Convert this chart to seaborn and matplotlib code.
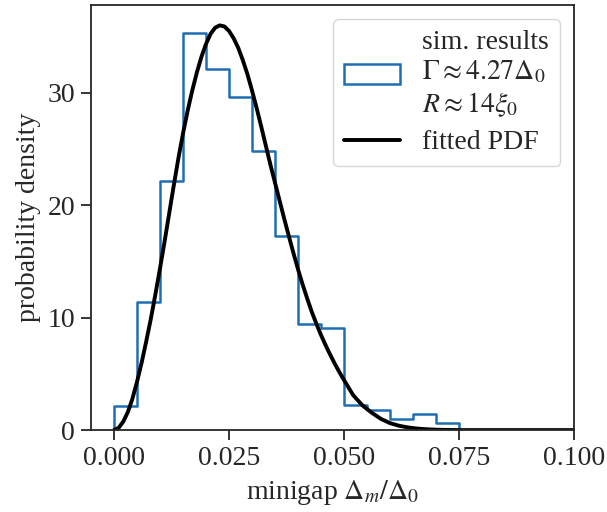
import numpy as np
import pandas as pd
import matplotlib
matplotlib.use("Agg")
import matplotlib.pyplot as plt
import seaborn as sns
from matplotlib.patches import Patch
from matplotlib.lines import Line2D

# histogram (density) data
bin_edges = [0.000, 0.005, 0.010, 0.015, 0.020, 0.025, 0.030, 0.035, 0.040,
             0.045, 0.050, 0.055, 0.060, 0.065, 0.070, 0.075]
bin_density = [2.17, 11.43, 22.2, 35.3, 32.1, 29.65, 24.84, 17.25, 9.4,
               9.05, 2.2, 1.75, 0.98, 1.4, 0.6]

# fitted PDF, points
pdf_x = [0.000, 0.001, 0.002, 0.003, 0.004, 0.005, 0.006, 0.007, 0.008, 0.009,
         0.010, 0.011, 0.012, 0.013, 0.014, 0.015, 0.016, 0.017, 0.018, 0.019,
         0.020, 0.021, 0.022, 0.023, 0.024, 0.025, 0.026, 0.027, 0.028, 0.029,
         0.030, 0.031, 0.032, 0.033, 0.034, 0.035, 0.036, 0.037, 0.038, 0.039,
         0.040, 0.041, 0.042, 0.043, 0.044, 0.045, 0.046, 0.047, 0.048, 0.049,
         0.050, 0.052, 0.054, 0.056, 0.058, 0.060, 0.062, 0.064, 0.066, 0.068,
         0.070, 0.072, 0.075, 0.100]
pdf_y = [0.0, 0.2, 0.75, 1.6, 2.8, 4.3, 6.0, 7.9, 9.9, 12.1,
         14.4, 16.8, 19.3, 21.8, 24.2, 26.4, 28.4, 30.2, 31.8, 33.2,
         34.35, 35.25, 35.8, 36.0, 35.9, 35.5, 34.85, 34.0, 32.9, 31.65,
         30.2, 28.65, 27.0, 25.3, 23.6, 22.0, 20.4, 18.8, 17.25, 15.75,
         14.3, 12.95, 11.7, 10.5, 9.45, 8.45, 7.55, 6.7, 5.9, 5.15,
         4.45, 3.1, 2.2, 1.55, 1.0, 0.62, 0.38, 0.23, 0.13, 0.07,
         0.035, 0.015, 0.0, 0.0]

x_ticks = [0.000, 0.025, 0.050, 0.075, 0.100]
y_ticks = [0, 10, 20, 30]

sns.set_style("ticks")
plt.rcParams["font.family"] = ["Liberation Serif", "DejaVu Serif"]
plt.rcParams["mathtext.fontset"] = "stix"
plt.rcParams["font.size"] = 20

fig = plt.figure(figsize=(6.07, 5.12), dpi=100)
ax = fig.add_axes([0.150, 0.160, 0.7956, 0.830])

blue = "#1f6eb4"
centers = [(a + b) / 2 for a, b in zip(bin_edges[:-1], bin_edges[1:])]
hist_df = pd.DataFrame({"x": centers, "w": bin_density})
sns.histplot(data=hist_df, x="x", weights="w", bins=bin_edges, stat="count",
             element="step", fill=False, color=blue, linewidth=1.8, ax=ax)
# closing edges of the step outline down to zero
ax.vlines([bin_edges[0], bin_edges[-1]], 0, [bin_density[0], bin_density[-1]],
          color=blue, linewidth=1.8)

pdf_df = pd.DataFrame({"x": pdf_x, "y": pdf_y})
sns.lineplot(data=pdf_df, x="x", y="y", color="black", linewidth=2.8, ax=ax)

ax.set_xlim(-0.005, 0.1)
ax.set_ylim(0, 37.8)
ax.set_xticks(x_ticks)
ax.set_xticklabels([f"{t:.3f}" for t in x_ticks])
ax.set_yticks(y_ticks)
ax.tick_params(labelsize=20, width=1.3, length=7, pad=4.5)
for s in ax.spines.values():
    s.set_linewidth(1.3)
    s.set_visible(True)

ax.set_xlabel(r"minigap $\Delta_m/\Delta_0$", fontsize=20, labelpad=5)
ax.set_ylabel("probability density", fontsize=20, labelpad=5)

handles = [Patch(facecolor="white", edgecolor=blue, linewidth=1.8),
           Line2D([], [], color="black", linewidth=2.8)]
labels = ["sim. results\n" + r"$\Gamma \approx 4.27\Delta_0$" + "\n" + r"$R \approx 14\xi_0$",
          "fitted PDF"]
ax.legend(handles, labels, loc="upper right", fontsize=20, frameon=True,
          borderaxespad=0.5, handlelength=2.0, labelspacing=0.4)

fig.savefig("out.png", dpi=100)
